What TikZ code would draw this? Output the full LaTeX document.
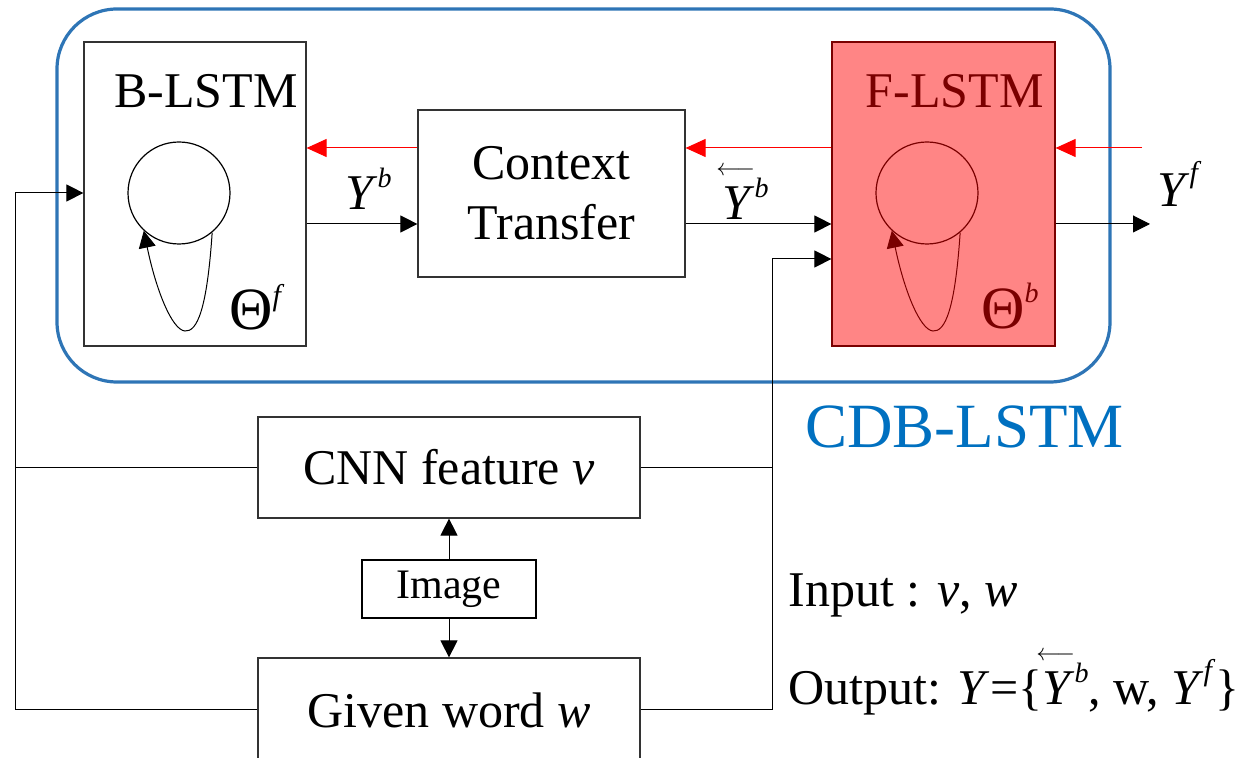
\documentclass[tikz,border=0pt]{standalone}
\usepackage{fontspec}
\setmainfont{Liberation Serif}
\usetikzlibrary{arrows.meta}
\definecolor{frameblue}{HTML}{2E75B6}
\definecolor{txtblue}{HTML}{0070C0}
\definecolor{pinkfill}{HTML}{FF8585}
\definecolor{dred}{HTML}{7A0000}
\newcommand{\upidx}[3]{\raisebox{#1}{\fontsize{#2}{#2}\selectfont\textit{#3}}}
\newcommand{\arrover}[1]{\leavevmode\makebox[0pt][l]{\hspace{-3pt}\raisebox{22pt}{\fontsize{13}{13}\selectfont$\longleftarrow$}}#1}
\newcommand{\bigf}{\fontsize{25}{30}\selectfont}
\begin{document}
\begin{tikzpicture}[x=0.5pt,y=-0.5pt,
  box/.style={draw=black!80, line width=0.6pt, inner sep=0pt},
  arr/.style={-{Triangle[length=8.5pt,width=8.5pt]}, line width=0.5pt},
  redarr/.style={-{Triangle[length=10pt,width=9pt]}, line width=0.5pt, draw=red},
  lbl/.style={font=\bigf, inner sep=0pt}]
\useasboundingbox (0,0) rectangle (1244,758);
% frame
\draw[frameblue, line width=1.6pt, rounded corners=30pt] (57,9) rectangle (1110,382);
% boxes
\node[box, minimum width=111pt, minimum height=152pt] (blstm) at (195,194) {};
\node[box, draw=dred, fill=pinkfill, minimum width=111.5pt, minimum height=152pt] (flstm) at (943.5,194) {};
\node[box, minimum width=133.5pt, minimum height=83.5pt, align=center, font=\bigf] (ctx) at (551.5,193.5) {Context\\Transfer};
\node[box, minimum width=191pt, minimum height=50.5pt, font=\bigf] (cnn) at (449,467.5) {CNN feature \textit{v}};
\node[box, line width=1pt, draw=black, minimum width=87pt, minimum height=29pt, font=\fontsize{21}{21}\selectfont] (img) at (449,589) {Image};
\node[box, minimum width=191pt, minimum height=52pt, font=\bigf] (word) at (449,710) {\raisebox{-2pt}{Given word \textit{w}}};
% titles
\node[lbl, anchor=base east] (btitle) at (298,108) {B-LSTM};
\node[lbl, anchor=base east, text=dred] (ftitle) at (1044,108) {F-LSTM};
% circles and loops
\node[draw, circle, minimum size=51pt, inner sep=0pt, line width=0.6pt] (bcirc) at (179,193) {};
\draw[arr] (bcirc.-50) .. controls (207,310) and (197,332) .. (185,331) .. controls (172,330) and (156,290) .. (bcirc.-133);
\node[draw=dred, circle, minimum size=51pt, inner sep=0pt, line width=0.6pt] (fcirc) at (927,193) {};
\draw[arr, draw=dred] (fcirc.-50) .. controls (955,310) and (945,332) .. (933,331) .. controls (920,330) and (904,290) .. (fcirc.-133);
% Theta labels
\node[anchor=base west, inner sep=0pt, font=\fontsize{30}{30}\selectfont] (thf) at (229,330) {Θ\upidx{12pt}{15}{f}};
\node[anchor=base west, inner sep=0pt, font=\fontsize{30}{30}\selectfont, text=dred] (thb) at (981,329) {Θ\upidx{13pt}{14}{b}};
% rows
\coordinate (rowA) at (0,148);
\coordinate (rowB) at (0,224);
\coordinate (redsrc) at (1142,148);
\coordinate (outend) at (1150,224);
\draw[redarr] (ctx.west |- rowA) -- (blstm.east |- rowA);
\draw[redarr] (flstm.west |- rowA) -- (ctx.east |- rowA);
\draw[redarr] (redsrc) -- (flstm.east |- rowA);
\draw[arr] (blstm.east |- rowB) -- (ctx.west |- rowB);
\draw[arr] (ctx.east |- rowB) -- (flstm.west |- rowB);
\draw[arr] (flstm.east |- rowB) -- (outend);
% connector labels
\node[lbl, anchor=base west] (ybl) at (345,210) {\textit{Y}\upidx{11pt}{14}{b}};
\node[lbl, anchor=base west] (ybarl) at (722,220) {\arrover{\textit{Y}}\upidx{11pt}{14}{b}};
\node[lbl, anchor=base west] (yfl) at (1157,207) {\textit{Y}\upidx{12pt}{15}{f}};
% left bus
\coordinate (L1) at (15,710);
\coordinate (L2) at (15,193);
\draw[arr] (word.west) -- (L1) -- (L2) -- (blstm.west |- L2);
\draw[line width=0.5pt] (cnn.west) -- (cnn.west -| L1);
% right bus
\coordinate (R1) at (772,710);
\coordinate (R2) at (772,259);
\draw[arr] (word.east) -- (R1) -- (R2) -- (flstm.west |- R2);
\draw[line width=0.5pt] (cnn.east) -- (cnn.east -| R1);
% image arrows
\draw[arr] (img.north) -- (cnn.south);
\draw[arr] (img.south) -- (word.north);
% texts
\node[anchor=base west, inner sep=0pt, text=txtblue, font=\fontsize{31.5}{31.5}\selectfont] (cdb) at (805,448) {CDB-LSTM};
\node[lbl, anchor=base west] (inp) at (788,607) {Input : \textit{v}, \textit{w}};
\node[lbl, anchor=base west] (outp) at (788,705) {Output: \textit{Y}=\{\arrover{\textit{Y}}\upidx{11pt}{14}{b}, w, \textit{Y}\upidx{12pt}{15}{f}\}};
\end{tikzpicture}
\end{document}
